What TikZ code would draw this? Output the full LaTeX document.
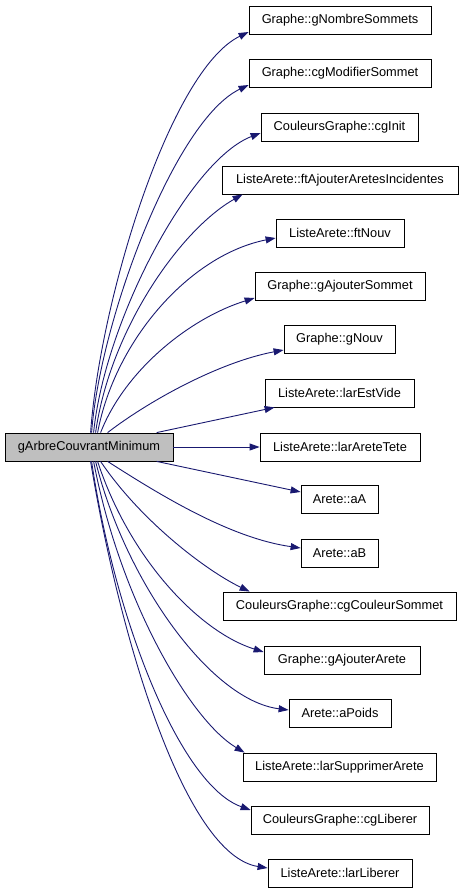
\documentclass[tikz,border=0pt]{standalone}
\usepackage{fontspec}
\setmainfont{Liberation Sans}
\usetikzlibrary{arrows.meta}
\definecolor{edgeblue}{HTML}{191970}
\definecolor{rootgray}{HTML}{BFBFBF}
\begin{document}
\begin{tikzpicture}[x=1pt,y=-1pt,
  fn/.style={draw=black, line width=0.8pt, minimum height=28pt, inner sep=0pt,
    font=\fontsize{12.8}{15}\selectfont, fill=white},
  rootfn/.style={fn, fill=rootgray},
  call/.style={draw=edgeblue, line width=0.9pt, -{Triangle[length=10pt,width=7pt]}}]
\useasboundingbox (0,0) rectangle (464,893);

\node[rootfn, minimum width=168pt] (root) at (89,447) {gArbreCouvrantMinimum};

\node[fn, minimum width=182pt] (n1) at (340,20) {Graphe::gNombreSommets};
\node[fn, minimum width=182pt] (n2) at (340,73) {Graphe::cgModifierSommet};
\node[fn, minimum width=157pt] (n3) at (339.5,127) {CouleursGraphe::cgInit};
\node[fn, minimum width=236pt] (n4) at (340,180) {ListeArete::ftAjouterAretesIncidentes};
\node[fn, minimum width=128pt] (n5) at (340,233) {ListeArete::ftNouv};
\node[fn, minimum width=170pt] (n6) at (340,286) {Graphe::gAjouterSommet};
\node[fn, minimum width=111pt] (n7) at (339.5,339) {Graphe::gNouv};
\node[fn, minimum width=149pt] (n8) at (339.5,393) {ListeArete::larEstVide};
\node[fn, minimum width=160pt] (n9) at (340,447) {ListeArete::larAreteTete};
\node[fn, minimum width=77pt] (n10) at (339.5,499) {Arete::aA};
\node[fn, minimum width=77pt] (n11) at (339.5,553) {Arete::aB};
\node[fn, minimum width=233pt] (n12) at (339.5,606) {CouleursGraphe::cgCouleurSommet};
\node[fn, minimum width=156pt] (n13) at (342,660) {Graphe::gAjouterArete};
\node[fn, minimum width=102pt] (n14) at (340,713) {Arete::aPoids};
\node[fn, minimum width=193pt] (n15) at (339.5,767) {ListeArete::larSupprimerArete};
\node[fn, minimum width=178pt] (n16) at (340,820) {CouleursGraphe::cgLiberer};
\node[fn, minimum width=144pt] (n17) at (340,873) {ListeArete::larLiberer};

\draw[call] ([xshift=86]root.north west) .. controls (100,300) and (170,70) .. ([yshift=-12]n1.west);
\draw[call] ([xshift=87]root.north west) .. controls (100,320) and (175,120) .. ([yshift=-12]n2.west);
\draw[call] ([xshift=89]root.north west) .. controls (105,320) and (190,160) .. ([yshift=-6]n3.west);
\draw[call] ([xshift=91]root.north west) .. controls (110,330) and (180,230) .. ([xshift=21]n4.south west);
\draw[call] ([xshift=93]root.north west) .. controls (115,340) and (190,255) .. ([yshift=-5]n5.west);
\draw[call] ([xshift=96]root.north west) .. controls (125,370) and (190,318) .. ([yshift=-12]n6.west);
\draw[call] ([xshift=103]root.north west) .. controls (150,400) and (220,362) .. ([yshift=-11]n7.west);
\draw[call] ([xshift=152]root.north west) -- ([xshift=10]n8.south west);
\draw[call] (root.east) -- (n9.west);
\draw[call] ([xshift=152]root.south west) -- ([yshift=7]n10.west);
\draw[call] ([xshift=103]root.south west) .. controls (160,495) and (230,538) .. ([yshift=5]n11.west);
\draw[call] ([xshift=96]root.south west) .. controls (140,520) and (205,570) .. ([xshift=27]n12.north west);
\draw[call] ([xshift=93]root.south west) .. controls (130,560) and (200,632) .. ([yshift=8]n13.west);
\draw[call] ([xshift=91]root.south west) .. controls (125,580) and (210,700) .. ([yshift=3]n14.west);
\draw[call] ([xshift=89]root.south west) .. controls (120,600) and (190,720) .. ([xshift=2]n15.north west);
\draw[call] ([xshift=87]root.south west) .. controls (115,620) and (180,785) .. ([yshift=10]n16.west);
\draw[call] ([xshift=86]root.south west) .. controls (120,640) and (185,855) .. ([yshift=5]n17.west);
\end{tikzpicture}
\end{document}
